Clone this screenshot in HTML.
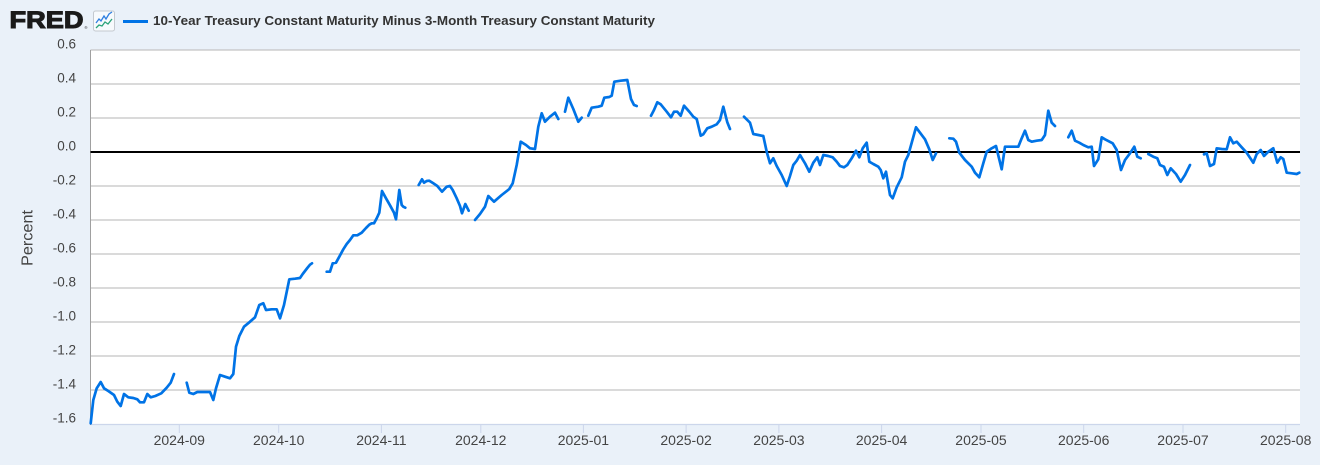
<!DOCTYPE html>
<html><head><meta charset="utf-8"><style>
html,body{margin:0;padding:0;background:#eaf1f9;}
svg{display:block;}
</style></head><body>
<svg width="1320" height="465" viewBox="0 0 1320 465" xmlns="http://www.w3.org/2000/svg">
<rect x="0" y="0" width="1320" height="465" fill="#eaf1f9"/>
<!-- header -->
<text x="9.5" y="28" font-family="Liberation Sans, sans-serif" font-weight="bold" font-size="24" fill="#1a1a1a" stroke="#1a1a1a" stroke-width="1.1" textLength="74" lengthAdjust="spacingAndGlyphs">FRED</text>
<text x="84.5" y="29" font-family="Liberation Sans, sans-serif" font-size="4" fill="#1a1a1a">®</text>
<rect x="93.5" y="11" width="21" height="20" rx="2" fill="#f7fafd" stroke="#c4c9cf" stroke-width="1"/>
<polyline points="96,23 99,19 101,21 104,16 106,19 109,14 112,12" fill="none" stroke="#2f7fe0" stroke-width="1.3"/>
<polyline points="96,28 99,25 102,26 105,22 108,24 112,19" fill="none" stroke="#2aa37a" stroke-width="1.3"/>
<line x1="123" y1="21.5" x2="148" y2="21.5" stroke="#0073e6" stroke-width="3"/>
<text x="153" y="25" font-family="Liberation Sans, sans-serif" font-weight="bold" font-size="13" fill="#333" textLength="502" lengthAdjust="spacingAndGlyphs">10-Year Treasury Constant Maturity Minus 3-Month Treasury Constant Maturity</text>

<!-- plot area -->
<rect x="90.5" y="50" width="1209.5" height="374.5" fill="#ffffff"/>
<g stroke="#c4c4c4" stroke-width="1.3">
<line x1="90.5" x2="1300" y1="50" y2="50"/>
<line x1="90.5" x2="1300" y1="84" y2="84"/>
<line x1="90.5" x2="1300" y1="118" y2="118"/>
<line x1="90.5" x2="1300" y1="186" y2="186"/>
<line x1="90.5" x2="1300" y1="220" y2="220"/>
<line x1="90.5" x2="1300" y1="254" y2="254"/>
<line x1="90.5" x2="1300" y1="288" y2="288"/>
<line x1="90.5" x2="1300" y1="322" y2="322"/>
<line x1="90.5" x2="1300" y1="356" y2="356"/>
<line x1="90.5" x2="1300" y1="390" y2="390"/>
</g>
<line x1="90.5" x2="1300" y1="424.5" y2="424.5" stroke="#ccd6eb" stroke-width="1.3"/>
<line x1="90.5" x2="90.5" y1="50" y2="425" stroke="#a0a0a0" stroke-width="1"/>
<g stroke="#ccd6eb" stroke-width="1">
<line x1="179.3" x2="179.3" y1="425" y2="433"/>
<line x1="278.7" x2="278.7" y1="425" y2="433"/>
<line x1="381.4" x2="381.4" y1="425" y2="433"/>
<line x1="480.8" x2="480.8" y1="425" y2="433"/>
<line x1="583.4" x2="583.4" y1="425" y2="433"/>
<line x1="686.1" x2="686.1" y1="425" y2="433"/>
<line x1="778.9" x2="778.9" y1="425" y2="433"/>
<line x1="881.6" x2="881.6" y1="425" y2="433"/>
<line x1="981" x2="981" y1="425" y2="433"/>
<line x1="1083.7" x2="1083.7" y1="425" y2="433"/>
<line x1="1183" x2="1183" y1="425" y2="433"/>
<line x1="1285.7" x2="1285.7" y1="425" y2="433"/>
</g>
<line x1="90.5" x2="1300" y1="152" y2="152" stroke="#000" stroke-width="2"/>

<!-- y labels -->
<g font-family="Liberation Sans, sans-serif" font-size="13.5" fill="#444" text-anchor="end">
<text x="76" y="48.5">0.6</text>
<text x="76" y="82.5">0.4</text>
<text x="76" y="116.5">0.2</text>
<text x="76" y="150.5">0.0</text>
<text x="76" y="184.5">-0.2</text>
<text x="76" y="218.5">-0.4</text>
<text x="76" y="252.5">-0.6</text>
<text x="76" y="286.5">-0.8</text>
<text x="76" y="320.5">-1.0</text>
<text x="76" y="354.5">-1.2</text>
<text x="76" y="388.5">-1.4</text>
<text x="76" y="422.5">-1.6</text>
</g>
<text transform="translate(32.5,238) rotate(-90)" font-family="Liberation Sans, sans-serif" font-size="15.5" fill="#444" text-anchor="middle" textLength="56" lengthAdjust="spacingAndGlyphs">Percent</text>

<!-- x labels -->
<g font-family="Liberation Sans, sans-serif" font-size="14" fill="#444" text-anchor="middle">
<text x="179.3" y="445">2024-09</text>
<text x="278.7" y="445">2024-10</text>
<text x="381.4" y="445">2024-11</text>
<text x="480.8" y="445">2024-12</text>
<text x="583.4" y="445">2025-01</text>
<text x="686.1" y="445">2025-02</text>
<text x="778.9" y="445">2025-03</text>
<text x="881.6" y="445">2025-04</text>
<text x="981" y="445">2025-05</text>
<text x="1083.7" y="445">2025-06</text>
<text x="1183" y="445">2025-07</text>
<text x="1285.7" y="445">2025-08</text>
</g>

<!-- series -->
<g fill="none" stroke="#0073e6" stroke-width="2.7" stroke-linejoin="round" stroke-linecap="round">
<polyline points="90.7,423.3 93.3,400 96.7,388.3 100.7,382 104,388.3 108.3,391 114,395 117.3,401.7 120.7,406 124,394 128.3,397.3 133.3,398 137.3,399.3 140,402.3 144,402.3 147.3,394 150.7,397.3 155.3,396 161.3,393.3 166.7,387.7 170.7,382.7 174,374"/>
<polyline points="186.7,382.7 189.3,392.7 193.3,394 197.3,392 203.3,392 210,392 213.3,400 216,388.3 220,375 225,376.7 230,378.3 233.3,374 236,346.7 239.3,336 244,326.7 249.3,322.3 255,317.3 259.3,305 263.3,303.3 266,310 271.7,309.3 276.7,309.3 280,318.3 284,305 289.3,279.3 295,278.7 300,278 302.7,274 307.3,268 310,264.7 312,263.3"/>
<polyline points="326.7,271.7 330,271.7 332.7,263.3 336,262.7 339.3,256.7 343.3,249.3 346.7,244 350,240 353.3,235.3 357.3,235.3 361.7,232.7 366,228 369.3,224.7 371.7,223.3 374,223.3 376.7,218.3 379.3,212.7 382,191 386,198.3 390,205.3 394,212.7 396,219.3 399.3,190 401.7,205 403.3,206.7 405.3,207.7"/>
<polyline points="418.7,185 422,179.3 424,182.7 426.7,181 429.3,180.7 433.3,183.3 437.3,186 442,191.7 446.7,186.7 450,186 452.7,190 456.7,198.3 460,206 462,213.3 465.3,204 466.7,206.7 468.7,210.7"/>
<polyline points="475,220 480,214 485,206.7 488.3,196 494,201.7 501.7,195 509.3,189 512.7,183.3 516.7,165 520.7,141.7 526,145 530,148.3 535,149 538.3,126.7 541.7,113.3 545,121.7 550,116.7 555,112.7 558.3,119"/>
<polyline points="565,111.7 568.3,97.7 573.3,109 578.3,121.7 581.7,117.7"/>
<polyline points="588.3,115.7 591.7,107.7 598.3,106.7 601.7,105.7 604.3,97.7 609.3,97 611.7,95.7 614.3,81.7 620.7,80.7 627.3,80 631,99 634,105 636.7,106"/>
<polyline points="651,115.7 654,110 657.3,102.3 660.7,104.3 666.7,111.7 671,117.3 674,111.7 677.3,111.7 680.7,115.7 684,105.7 689.3,111.7 693.3,116.7 696.7,119 700.7,135.7 703.3,134.3 707.3,128.3 711.7,126.7 716.7,124.3 720,120 723.3,106.7 727.3,122.3 730,129"/>
<polyline points="744,116.7 750,122.7 753.3,134 758.3,135 763.3,136 766.7,151.7 770,163.3 773.3,158.3 776.7,166 781.7,175 786.7,186 790,176 793.3,165 796.7,160.7 800,155 805,163.3 809.3,171.7 813.3,162.7 817.3,157.3 820,165 823.3,155 828.3,156 832.7,157.3 836.7,161.7 840,166 844,167.3 847.3,165 851.7,158.3 856,150.7 859.3,157.3 862.7,148.3 866.7,142.7 869.3,161.7 873.3,164 878.3,166.7 880.7,170 883.3,178.3 886,171.7 890,195 892.7,198.3 896.7,187.3 901.7,177.3 905,161.7 908.3,155 916,127.3 920,132.7 925,139.3 929.3,149.3 932.7,160 936,153.3"/>
<polyline points="949.3,138.3 953.3,138.7 956,141.7 959.3,152.7 965,160 971.7,166.7 975,172.7 979.3,177.3 983.3,163.3 986.7,151.7 991.7,148.3 996,146 1001.7,169.3 1005,146.7 1010,146.7 1018.3,146.7 1021.7,138.3 1025,130.7 1028.3,140 1031.7,141.7 1036.7,140.7 1041.7,140 1045,135 1048.3,110.7 1051.7,122.7 1055,126"/>
<polyline points="1068.3,137.3 1071.7,130.7 1075,140.7 1079.3,142.7 1083.3,145 1088.3,147.3 1091.7,146.7 1094,166 1098.3,159.3 1101.7,137.3 1105,139.3 1112.7,143.3 1116.7,150 1121,170 1125,160 1130,153.3 1134.3,146.7 1137.3,156.7 1140.7,158.3"/>
<polyline points="1148.3,154 1153.3,156.7 1157.3,158.3 1160,165 1164,166.7 1167.3,175 1170.7,168.3 1176,174 1180.7,181.7 1185,175 1190,165"/>
<polyline points="1204,154.3 1206.7,153.3 1210,166 1214,164 1216.7,148.3 1221.7,149 1226.7,149.3 1230,137.3 1233.3,143.3 1236.7,141.7 1241.7,147.3 1246.7,152.7 1253.3,162.7 1256.7,154 1260.7,150 1264,156 1268.3,151.7 1273.3,148.3 1277.3,162.7 1280.7,157.3 1283.3,159 1286.7,172.7 1291.7,173.3 1296.7,174 1299.3,172.7"/>
</g>
</svg>
</body></html>
